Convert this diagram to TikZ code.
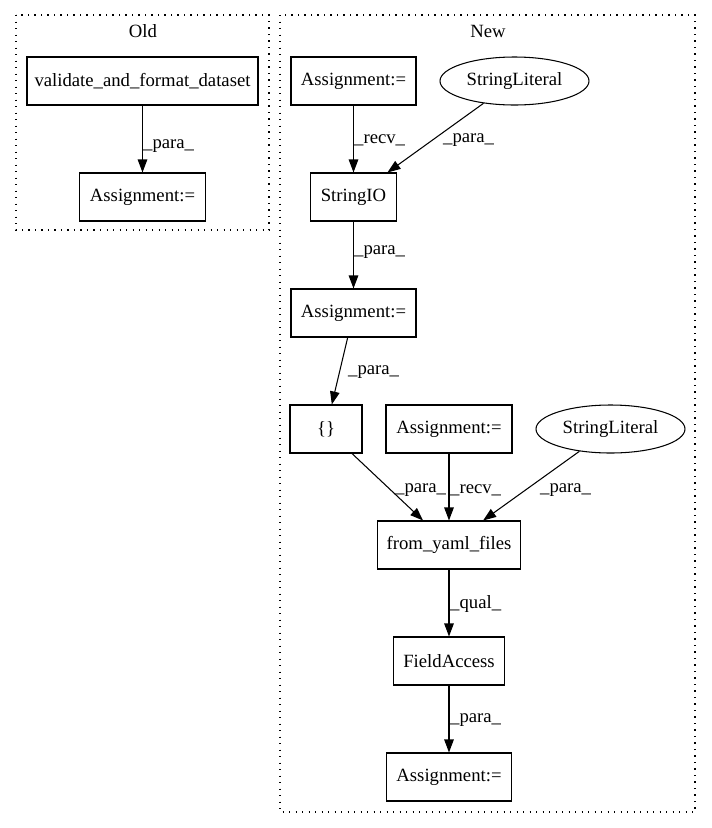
\documentclass[tikz,border=0pt]{standalone}
\usepackage{fontspec}
\setmainfont{Liberation Serif}
\usetikzlibrary{arrows.meta,shapes.geometric}
\begin{document}
\begin{tikzpicture}[x=1pt,y=-1pt,
  every node/.style={font=\fontsize{18.7}{22}\selectfont},
  box/.style={draw,line width=1.05pt,rectangle,minimum height=48pt,inner sep=0pt},
  oval/.style={draw,line width=1.05pt,ellipse,minimum height=48pt,minimum width=149pt,inner sep=0pt},
  cluster/.style={draw,line width=1.3pt,dash pattern=on 1.3pt off 5.2pt},
  edge/.style={line width=1.05pt,-{Triangle[length=13pt,width=9.5pt]}},
  lab/.style={anchor=west,inner sep=0pt}]
\useasboundingbox (0,0) rectangle (712,828);
% clusters
\draw[cluster] (16,15) rectangle (269,230);
\draw[cluster] (280,15) rectangle (695,812);
\node (oldlabel) at (143,31) {Old};
\node (newlabel) at (488,31) {New};
% Old nodes
\node[box,minimum width=231pt] (val) at (142.5,81) {validate\_and\_format\_dataset};
\node[box,minimum width=126pt] (oa) at (142.5,197) {Assignment:=};
% New nodes
\node[box,minimum width=125pt] (a1) at (353.5,81) {Assignment:=};
\node[oval] (sl1) at (514.5,81) {StringLiteral};
\node[box,minimum width=86pt] (sio) at (353.5,197) {StringIO};
\node[box,minimum width=125pt] (a2) at (353.5,313) {Assignment:=};
\node[box,minimum width=72pt] (br) at (326,429) {\{\}};
\node[box,minimum width=126pt] (a3) at (449,429) {Assignment:=};
\node[oval] (sl2) at (610.5,429) {StringLiteral};
\node[box,minimum width=143pt] (fy) at (449,545) {from\_yaml\_files};
\node[box,minimum width=111pt] (fa) at (449,661) {FieldAccess};
\node[box,minimum width=125pt] (a4) at (449,777) {Assignment:=};
% edges
\draw[edge] (val) -- (oa);
\draw[edge] (a1) -- (sio);
\draw[edge] (sl1) -- (sio);
\draw[edge] (sio) -- (a2);
\draw[edge] (a2) -- (br);
\draw[edge] (br) -- (fy);
\draw[edge] (a3) -- (fy);
\draw[edge] (sl2) -- (fy);
\draw[edge] (fy) -- (fa);
\draw[edge] (fa) -- (a4);
% edge labels
\node[lab] (l1) at (143,146) {\_para\_};
\node[lab] (l2) at (354,140) {\_recv\_};
\node[lab] (l3) at (443,140) {\_para\_};
\node[lab] (l4) at (354,252) {\_para\_};
\node[lab] (l5) at (348,372) {\_para\_};
\node[lab] (l6) at (395,490) {\_para\_};
\node[lab] (l7) at (450,490) {\_recv\_};
\node[lab] (l8) at (540,490) {\_para\_};
\node[lab] (l9) at (450,604) {\_qual\_};
\node[lab] (l10) at (450,720) {\_para\_};
\end{tikzpicture}
\end{document}
